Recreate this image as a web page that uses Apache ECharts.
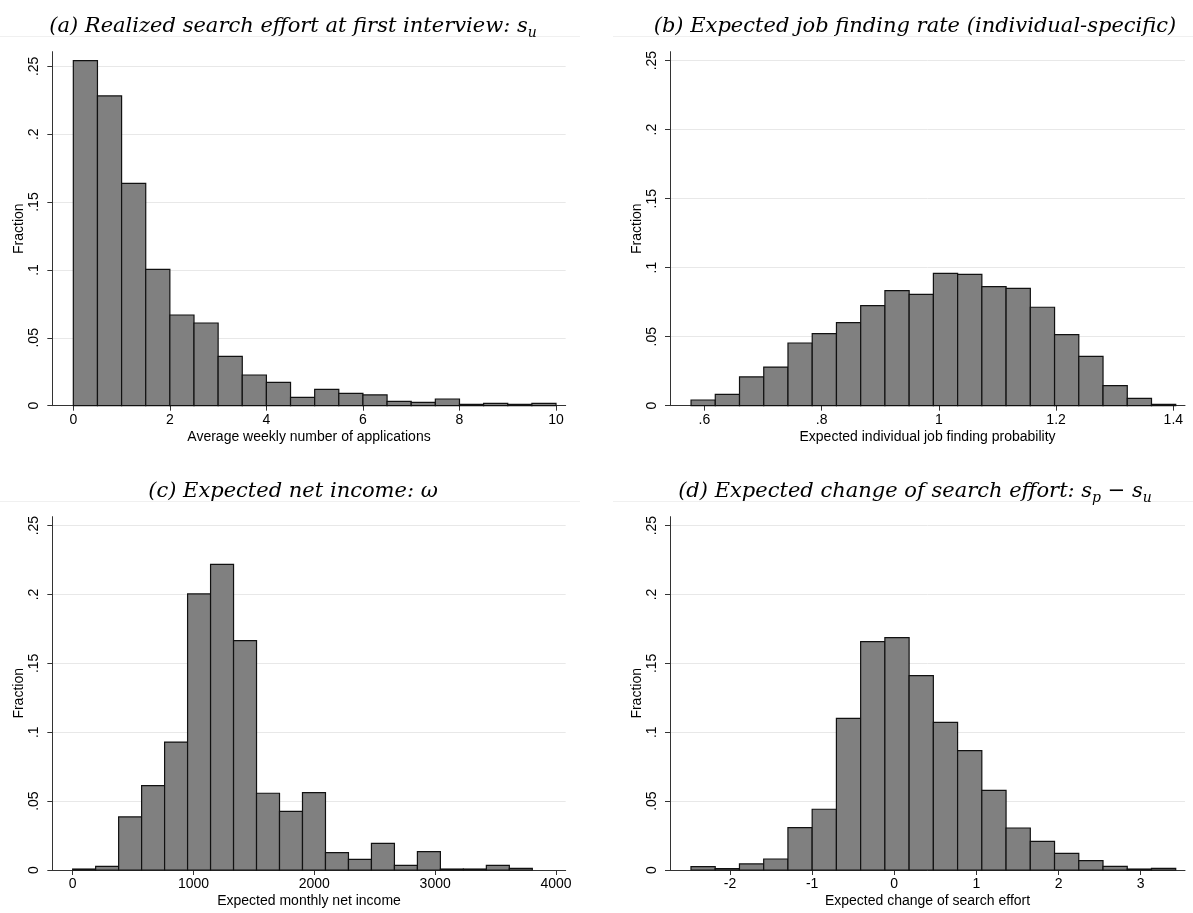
<!DOCTYPE html>
<html>
<head>
<meta charset="utf-8">
<script src="https://cdn.jsdelivr.net/npm/echarts@6/dist/echarts.min.js"></script>
<style>
  html, body { margin: 0; padding: 0; background: #fff; }
  #chart { width: 1193px; height: 913px; }
</style>
</head>
<body>
<div id="chart"></div>
<script>
// Histogram fractions (20 equal-width bins per panel)
const fracSearch = [0.2542, 0.2282, 0.1638, 0.1004, 0.0668, 0.0609, 0.0363, 0.0226, 0.0172, 0.0061,
                    0.0120, 0.0091, 0.0079, 0.0032, 0.0025, 0.0049, 0.0010, 0.0017, 0.0010, 0.0017];
const fracJobFind = [0.0041, 0.0082, 0.0208, 0.0280, 0.0454, 0.0522, 0.0601, 0.0725, 0.0833, 0.0807,
                     0.0959, 0.0952, 0.0862, 0.0850, 0.0713, 0.0515, 0.0357, 0.0145, 0.0053, 0.0010];
const fracIncome = [0.0007, 0.0027, 0.0385, 0.0612, 0.0929, 0.2004, 0.2219, 0.1665, 0.0557, 0.0426,
                    0.0561, 0.0126, 0.0077, 0.0194, 0.0034, 0.0133, 0.0007, 0.0007, 0.0034, 0.0012];
const fracChange = [0.0024, 0.0010, 0.0044, 0.0080, 0.0307, 0.0441, 0.1101, 0.1658, 0.1687, 0.1411,
                    0.1072, 0.0866, 0.0578, 0.0305, 0.0208, 0.0121, 0.0068, 0.0027, 0.0007, 0.0012];

// Bin start and width per panel
const binSearch  = [0, 0.5];
const binJobFind = [0.5773, 0.04134];
const binIncome  = [0, 190.2];
const binChange  = [-2.475, 0.2951];

// Axis tick values
const yTicks = [0, 0.05, 0.1, 0.15, 0.2, 0.25];
const xTicksSearch  = [0, 2, 4, 6, 8, 10];
const xTicksJobFind = [0.6, 0.8, 1, 1.2, 1.4];
const xTicksIncome  = [0, 1000, 2000, 3000, 4000];
const xTicksChange  = [-2, -1, 0, 1, 2, 3];

const xTitles = [
  'Average weekly number of applications',
  'Expected individual job finding probability',
  'Expected monthly net income',
  'Expected change of search effort'
];

const SANS = 'Liberation Sans';
const SERIF = 'DejaVu Serif';

// Stata-style numbers: drop the leading zero
function stataNum(v) {
  let s = String(+v.toFixed(6));
  s = s.replace(/^0\./, '.').replace(/^-0\./, '-.');
  return s;
}

function binsToData(bin, frac) {
  return frac.map((f, i) => [bin[0] + i * bin[1], bin[0] + (i + 1) * bin[1], f]);
}

const panels = [
  { grid: { left: 52.33, top: 51.67, width: 513.34, height: 354 }, xr: [-0.435, 10.2], ymax: 0.2608,
    ticks: xTicksSearch, data: binsToData(binSearch, fracSearch) },
  { grid: { left: 670, top: 51.67, width: 515, height: 354 }, xr: [0.5414, 1.4199], ymax: 0.2565,
    ticks: xTicksJobFind, data: binsToData(binJobFind, fracJobFind) },
  { grid: { left: 52.33, top: 516.67, width: 513.34, height: 353.33 }, xr: [-168.3, 4080], ymax: 0.2565,
    ticks: xTicksIncome, data: binsToData(binIncome, fracIncome) },
  { grid: { left: 670, top: 516.67, width: 515, height: 353.33 }, xr: [-2.7305, 3.54], ymax: 0.2565,
    ticks: xTicksChange, data: binsToData(binChange, fracChange) }
];

const axisColor = '#333';

const titleRich = {
  t: { fontFamily: SERIF, fontStyle: 'italic', fontWeight: 'normal', fontSize: 21, lineHeight: 27, color: '#000' },
  s: { fontFamily: SERIF, fontStyle: 'italic', fontWeight: 'normal', fontSize: 14, lineHeight: 14,
       verticalAlign: 'bottom', color: '#000' }
};

const option = {
  animation: false,
  backgroundColor: '#fff',
  grid: panels.map(p => Object.assign({ containLabel: false }, p.grid)),
  xAxis: panels.map((p, i) => ({
    type: 'value', gridIndex: i, min: p.xr[0], max: p.xr[1],
    name: xTitles[i], nameLocation: 'middle', nameGap: 24,
    nameTextStyle: { fontFamily: SANS, fontSize: 14, color: '#000' },
    axisLine: { show: true, onZero: false, lineStyle: { color: axisColor, width: 1 } },
    axisTick: { show: true, length: 5, customValues: p.ticks, lineStyle: { color: axisColor } },
    axisLabel: { customValues: p.ticks, margin: 7, fontFamily: SANS, fontSize: 14, color: '#000',
                 formatter: stataNum },
    splitLine: { show: false }
  })),
  yAxis: panels.map((p, i) => ({
    type: 'value', gridIndex: i, min: 0, max: p.ymax,
    name: 'Fraction', nameLocation: 'middle', nameRotate: 90, nameGap: 26,
    nameTextStyle: { fontFamily: SANS, fontSize: 14, color: '#000' },
    axisLine: { show: true, onZero: false, lineStyle: { color: axisColor, width: 1 } },
    axisTick: { show: true, length: 5, customValues: yTicks, lineStyle: { color: axisColor } },
    axisLabel: { customValues: yTicks, rotate: 90, margin: 11, fontFamily: SANS, fontSize: 14, color: '#000',
                 formatter: stataNum },
    splitLine: { show: true, lineStyle: { color: '#e8e8e8', width: 1 } }
  })),
  title: [
    { left: 288, top: 8, text: '{t|(a) Realized search effort at first interview: s}{s|u}' },
    { left: 910, top: 8, text: '{t|(b) Expected job finding rate (individual-specific)}' },
    { left: 288, top: 473, text: '{t|(c) Expected net income: ω}' },
    { left: 910, top: 473, text: '{t|(d) Expected change of search effort: s}{s|p}{t| − s}{s|u}' }
  ].map(t => ({
    left: t.left, top: t.top, textAlign: 'center', text: t.text,
    textStyle: { fontWeight: 'normal', rich: titleRich }
  })),
  graphic: [
    { type: 'line', shape: { x1: 0, y1: 36.5, x2: 580, y2: 36.5 }, style: { stroke: '#f0f0f0', lineWidth: 1 } },
    { type: 'line', shape: { x1: 613, y1: 36.5, x2: 1193, y2: 36.5 }, style: { stroke: '#f0f0f0', lineWidth: 1 } },
    { type: 'line', shape: { x1: 0, y1: 501.5, x2: 580, y2: 501.5 }, style: { stroke: '#f0f0f0', lineWidth: 1 } },
    { type: 'line', shape: { x1: 613, y1: 501.5, x2: 1193, y2: 501.5 }, style: { stroke: '#f0f0f0', lineWidth: 1 } }
  ],
  series: panels.map((p, i) => ({
    type: 'custom', xAxisIndex: i, yAxisIndex: i, data: p.data,
    encode: { x: [0, 1], y: 2 },
    renderItem: function (params, api) {
      const a = api.coord([api.value(0), 0]);
      const b = api.coord([api.value(1), api.value(2)]);
      return {
        type: 'rect',
        shape: { x: a[0], y: b[1], width: b[0] - a[0], height: a[1] - b[1] },
        style: { fill: '#808080', stroke: '#111', lineWidth: 1.2 }
      };
    }
  }))
};

const chart = echarts.init(document.getElementById('chart'), null, { renderer: 'canvas' });
chart.setOption(option);
</script>
</body>
</html>
